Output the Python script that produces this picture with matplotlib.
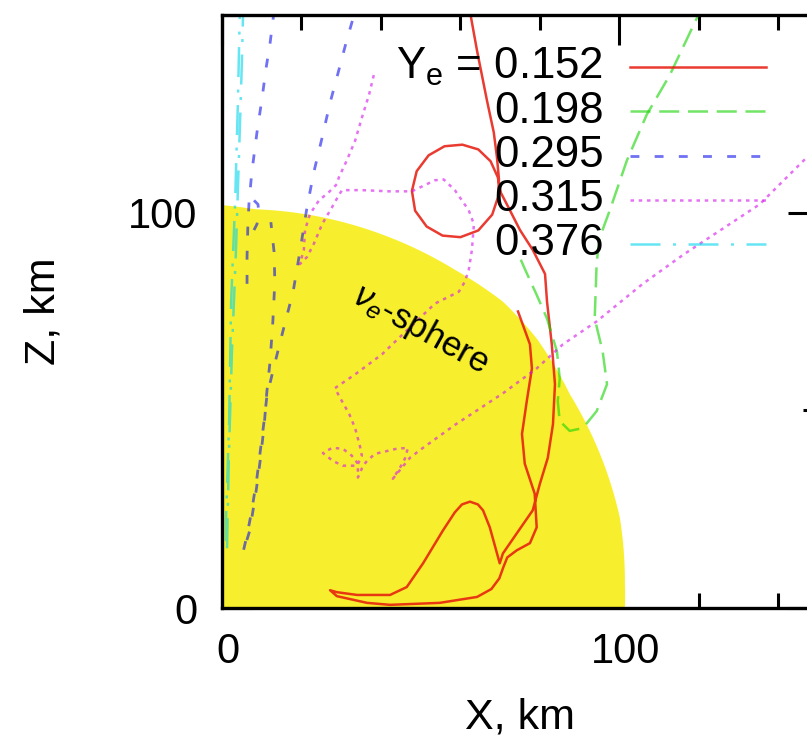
import numpy as np
import matplotlib
matplotlib.use("Agg")
import matplotlib.pyplot as plt
from matplotlib.transforms import ScaledTranslation

plt.rcParams['font.family'] = ['Liberation Sans', 'DejaVu Sans']
plt.rcParams['mathtext.fontset'] = 'custom'
plt.rcParams['mathtext.rm'] = 'Liberation Sans'
plt.rcParams['mathtext.it'] = 'Liberation Sans:italic'

# nu_e-sphere boundary: angle from X axis (deg) and radius (km)
sphere_theta = [0, 3.6, 12.9, 31.7, 40.7, 47.6, 55.6, 65.9, 75.7, 85.3, 90]
sphere_r = [101.4, 101.6, 102.7, 102.9, 104.5, 104.9, 103.7, 102.8, 102.0, 101.2, 101.9]

# tracer trajectories (X, Z in km)
red_x = [62.4, 64.2, 66.7, 68.4, 69.2, 69.7, 69.5, 68.0, 64.5, 60.0, 55.5, 51.5, 48.6,
         47.8, 49.0, 52.0, 56.0, 60.5, 64.5, 67.6, 69.4, 70.2, 71.7, 75.0, 78.2, 81.3,
         81.8, 83.0, 83.8, 83.3, 82.0, 80.0, 78.2, 74.2, 70.7, 69.9, 67.4, 65.7, 64.4,
         62.4, 60.4, 58.6, 55.6, 50.6, 46.5, 42.3, 34.0, 28.9, 27.2, 28.9, 36.5, 42.3,
         54.8, 64.2, 67.8, 69.8, 70.8, 71.8, 74.2, 77.5, 79.2, 78.7, 76.2, 75.5, 76.7,
         78.0, 77.5, 74.5]
red_z = [150.9, 140.9, 128.3, 120.3, 114.0, 108.5, 104.0, 99.5, 95.5, 93.8, 94.2, 96.5,
         100.5, 105.5, 110.5, 114.5, 116.8, 117.2, 116.0, 113.0, 109.0, 105.0, 102.1,
         95.6, 90.6, 84.5, 77.5, 66.7, 56.6, 46.5, 38.0, 31.4, 24.7, 18.9, 13.8, 11.3,
         20.4, 24.7, 26.2, 26.9, 26.2, 24.2, 19.6, 11.3, 5.3, 3.3, 3.3, 4.0, 4.5, 3.0,
         1.3, 0.8, 1.3, 2.8, 4.8, 7.5, 10.3, 12.8, 14.6, 16.4, 20.4, 28.9, 36.5, 44.0,
         52.3, 60.6, 66.7, 75.0]

green_x = [75.2, 76.2, 79.2, 81.8, 84.3, 85.0, 84.5, 85.0, 87.5, 90.8, 94.3, 96.9, 95.8,
           93.8, 94.3, 95.1, 97.6, 101.9, 106.9, 112.7, 119.5, 121.5]
green_z = [88.1, 85.8, 79.2, 73.2, 64.9, 58.1, 52.3, 47.3, 44.8, 45.5, 49.8, 56.6, 64.9,
           73.2, 87.5, 93.8, 100.6, 113.2, 124.8, 134.8, 149.2, 153.0]

blue_x = [6.3, 6.3, 6.5, 6.8, 7.5, 8.8, 10.1, 11.1, 12.1, 13.1, 19.6, 33.5, 33.0, 31.2,
          29.2, 27.2, 25.2, 23.1, 21.4, 19.6, 17.9, 15.3, 13.1, 11.3, 10.6, 9.8, 8.8,
          7.5, 6.3, 5.3, 7.0, 8.6, 9.6, 10.6, 11.3, 12.1, 12.8, 13.3, 13.1, 12.3,
          np.nan, 8.05, 9.06, 9.31, 8.8, 8.05]
blue_z = [82.0, 88.8, 96.4, 102.6, 110.2, 120.3, 129.1, 136.6, 142.9, 150.9, 155.5,
          151.7, 149.2, 142.9, 135.3, 127.8, 119.0, 110.2, 101.4, 90.1, 80.0, 69.9,
          61.1, 53.6, 47.3, 41.0, 33.0, 24.7, 18.4, 14.1, 19.6, 29.7, 37.2, 46.0, 54.8,
          62.4, 72.5, 82.5, 90.1, 97.6, np.nan, 103.1, 102.1, 99.6, 97.1, 95.6]

magenta_x = [38.2, 37.0, 35.2, 33.5, 31.4, 29.4, 28.9, 26.9, 24.4, 22.1, 20.9, 20.6,
             19.6, 21.4, 23.1, 25.2, 27.7, 29.4, 30.2, 35.2, 42.0, 47.8, 53.6, 55.8,
             58.6, 62.1, 63.4, 62.9, 62.1, 61.1, 59.6, 53.6, 47.0, 40.3, 33.5, 28.4,
             30.2, 32.0, 33.5, 34.7, 35.2, 34.0, 30.4, 27.9, 25.4, 27.7, 30.4, 32.7,
             34.2, 34.2, 35.5, 36.5, 38.5, 41.5, 44.0, 46.8, 46.0, 44.8, 43.0, 47.3,
             50.3, 58.6, 65.4, 70.7, 79.2, 85.8, 94.3, 105.9, 116.0, 127.0, 135.3,
             147.2, 153.0]
magenta_z = [134.8, 129.8, 124.0, 118.2, 113.2, 108.9, 107.2, 105.2, 103.1, 99.6, 95.6,
             90.6, 87.0, 88.8, 92.1, 97.1, 101.4, 104.4, 105.7, 105.7, 105.4, 105.4,
             108.2, 108.4, 105.7, 100.6, 97.1, 90.6, 85.5, 82.5, 80.0, 77.0, 70.7,
             64.2, 59.1, 55.6, 52.3, 49.1, 45.5, 41.0, 38.5, 36.0, 36.0, 37.2, 39.2,
             40.5, 40.3, 38.5, 36.5, 33.0, 36.0, 37.2, 39.0, 39.7, 40.3, 40.5, 37.7,
             35.5, 32.7, 38.0, 40.3, 46.3, 50.8, 54.3, 60.6, 66.7, 72.5, 82.0, 89.3,
             96.6, 102.1, 114.0, 118.5]

cyan_x = [1.26, 1.76, 2.5, 3.5, 4.3, 5.0, 5.3, 4.5, 4.0, 3.3, 2.3, 1.8, 1.0, 1.0]
cyan_z = [15.1, 39.7, 64.9, 90.1, 115.2, 137.9, 150.4, 151.7, 127.8, 102.6, 77.5,
          47.3, 22.1, 15.1]

labels = ['$\\mathregular{Y_e}$ = 0.152', '0.198', '0.295', '0.315', '0.376']

series = [
    (red_x, red_z, '#e6180c', 0.85, 1.8, '-'),
    (green_x, green_z, '#14d400', 0.6, 1.8, (0, (8, 3.5))),
    (blue_x, blue_z, '#1212ec', 0.6, 2.0, (0, (3.2, 5.5))),
    (magenta_x, magenta_z, '#d414ec', 0.6, 1.8, (0, (1.4, 1.9))),
    (cyan_x, cyan_z, '#00d4ec', 0.6, 1.8, (0, (12, 5, 1.2, 5))),
]

fig = plt.figure(figsize=(8.07, 7.42), dpi=100)
ax = fig.add_axes([222 / 807, 134 / 742, 596 / 807, 593 / 742])
ax.set_xlim(0, 150)
ax.set_ylim(0, 150)

# the sphere (drawn over the ticks, under the trajectories)
th = np.radians(np.linspace(0, 90, 200))
rr = np.interp(np.degrees(th), sphere_theta, sphere_r)
ax.fill(np.r_[0, rr * np.cos(th)], np.r_[0, rr * np.sin(th)],
        color='#f7ef2e', lw=0, zorder=3)

for (x, z, c, a, lw, ls) in series:
    ax.plot(x, z, color=c, alpha=a, lw=lw, ls=ls, zorder=4)

# gnuplot-like key: text right-aligned, sample to the right
for i, (lab, s) in enumerate(zip(labels, series)):
    yk = 0.912 - i * 0.0745
    ax.text(0.640, yk, lab, transform=ax.transAxes, ha='right', va='center',
            fontsize=31.5, zorder=5)
    ax.plot([0.685, 0.913], [yk, yk], transform=ax.transAxes, color=s[2],
            alpha=s[3], lw=s[4], ls=s[5], zorder=5)

ax.text(50.1, 70.4, '$\\nu_e$-sphere', rotation=-29, ha='center', va='center',
        fontsize=25, zorder=5)

ax.set_xticks([0, 100])
ax.set_yticks([0, 100])
ax.set_xticks([20, 40, 60, 80, 120, 140], minor=True)
ax.set_yticks([50, 150], minor=True)
ax.tick_params(which='both', direction='in', top=True, right=True, width=2.2,
               labelsize=30)
ax.tick_params(axis='x', which='major', pad=17)
ax.tick_params(axis='y', which='major', pad=18)
ax.tick_params(which='major', length=21.6)
ax.tick_params(which='minor', length=10.8)
for lab in ax.get_xticklabels():
    lab.set_transform(lab.get_transform() + ScaledTranslation(0.06, 0, fig.dpi_scale_trans))
for sp in ax.spines.values():
    sp.set_linewidth(2.4)
    sp.set_zorder(6)

ax.set_xlabel('X, km', fontsize=31, va='center')
ax.set_ylabel('Z, km', fontsize=31, va='center')
ax.xaxis.set_label_coords(0.5, -0.185)
ax.yaxis.set_label_coords(-0.300, 0.5)

fig.savefig('out.png', dpi=100)
